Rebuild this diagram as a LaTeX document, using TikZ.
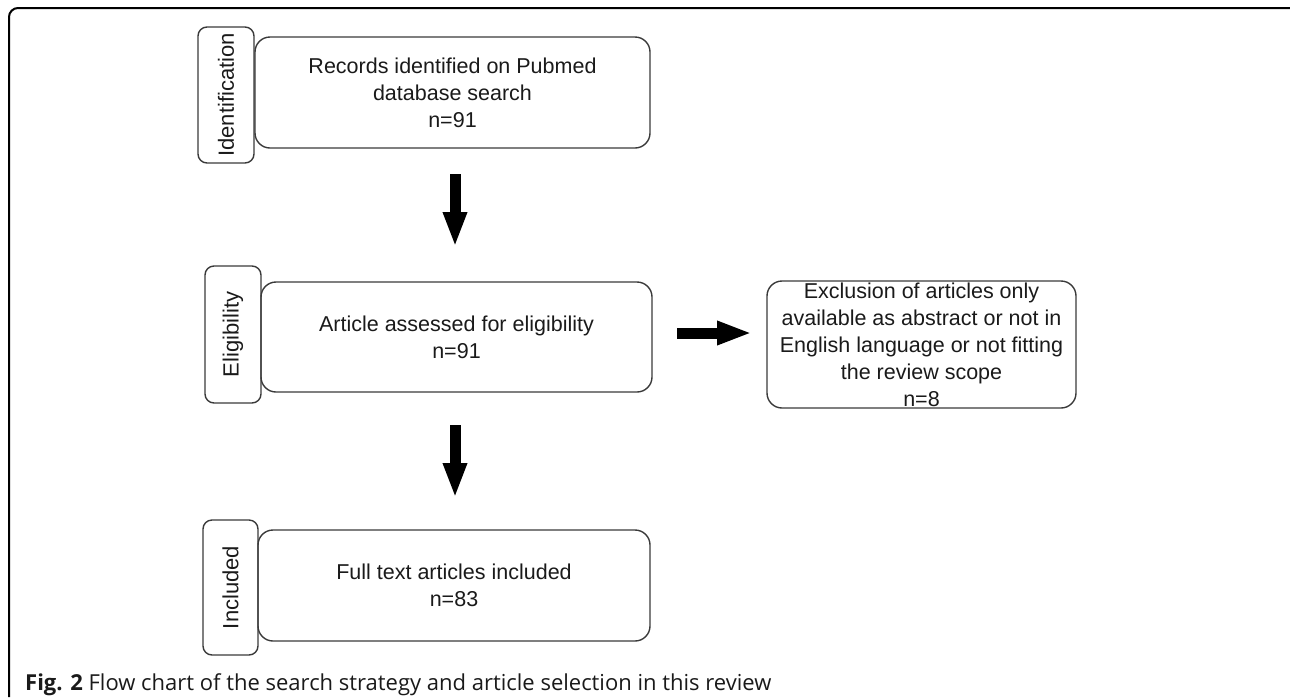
\documentclass[tikz,border=0pt]{standalone}
\usepackage{fontspec}
\setmainfont{Liberation Sans}
\newfontfamily\capfont{Open Sans}
\usetikzlibrary{arrows.meta}
\definecolor{boxline}{HTML}{3A3A3A}
\definecolor{txt}{HTML}{1A1A1A}
\tikzset{
  x=1pt, y=-1pt,
  flowbox/.style={draw=boxline, line width=1.4pt, rounded corners=15pt, inner sep=0pt,
    align=center, text=txt, font=\fontsize{21.5}{27}\selectfont},
  stagebox/.style={draw=boxline, line width=1.4pt, rounded corners=9pt, inner sep=0pt,
    text=txt, font=\fontsize{21}{27}\selectfont},
  stagelabel/.style={rotate=90, inner sep=0pt, text=txt, font=\fontsize{22}{27}\selectfont},
  blockarrow/.style={line width=11pt, -{Triangle[width=22pt,length=35pt]}, black},
}
\begin{document}
\begin{tikzpicture}
\useasboundingbox (0,0) rectangle (1290,697);
% outer frame
\draw[line width=2pt, rounded corners=9pt] (9,697) -- (9,8) -- (1296,8);

% stage boxes
\node[stagebox, minimum width=56pt, minimum height=136pt] (sid) at (226,95) {};
\node[stagelabel] (lid) at (226,95) {Identification};
\node[stagebox, minimum width=56pt, minimum height=137pt] (sel) at (233,334.5) {};
\node[stagelabel] (lel) at (233,334.5) {Eligibility};
\node[stagebox, minimum width=55pt, minimum height=135pt] (sin) at (230.5,587.5) {};
\node[stagelabel] (lin) at (230.5,587.5) {Included};

% main boxes
\node[flowbox, minimum width=395pt, minimum height=111pt] (rec) at (452.5,92.5)
  {Records identified on Pubmed\\database search\\n=91};
\node[flowbox, minimum width=391pt, minimum height=110pt] (art) at (456.5,337)
  {Article assessed for eligibility\\n=91};
\node[flowbox, minimum width=309pt, minimum height=127pt] (exc) at (921.5,344.5)
  {Exclusion of articles only\\available as abstract or not in\\English language or not fitting\\the review scope\\n=8};
\node[flowbox, minimum width=392pt, minimum height=111pt] (ful) at (454,585.5)
  {Full text articles included\\n=83};

% arrows
\coordinate (a1s) at (455,174);
\coordinate (a1e) at (455,247);
\coordinate (a2s) at (455,425);
\coordinate (a2e) at (455,498);
\coordinate (a3s) at (677,333);
\coordinate (a3e) at (752,333);
\draw[blockarrow] (a1s) -- (a1e);
\draw[blockarrow] (a2s) -- (a2e);
\draw[blockarrow] (a3s) -- (a3e);

% caption
\node[anchor=base west, inner sep=0pt, text=txt, font=\capfont\fontsize{22}{26}\selectfont] (cap) at (25,690)
  {\textbf{Fig. 2} Flow chart of the search strategy and article selection in this review};
\end{tikzpicture}
\end{document}
